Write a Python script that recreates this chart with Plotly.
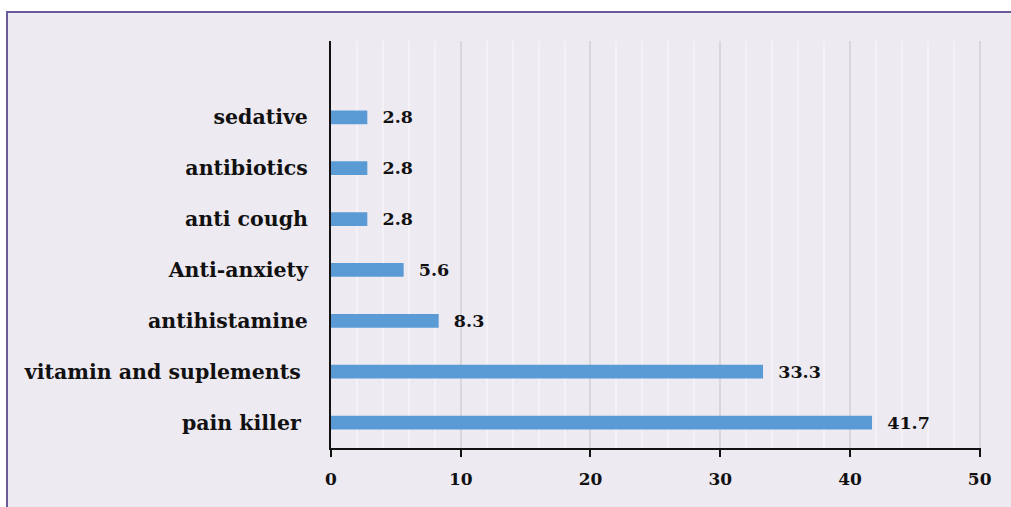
import plotly.graph_objects as go

categories = ["pain killer\u00a0", "vitamin and suplements\u00a0", "antihistamine", "Anti-anxiety",
              "anti cough", "antibiotics", "sedative"]
values = [41.7, 33.3, 8.3, 5.6, 2.8, 2.8, 2.8]
value_labels = ["41.7", "33.3", "8.3", "5.6", "2.8", "2.8", "2.8"]

W, H = 1011, 507
L, R, T, B = 331, 30, 41, 59
pw, ph = W - L - R, H - T - B

def px_x(x):
    return (x - L) / pw

def px_y(y):
    return (H - B - y) / ph

BG = "#EEEAF2"
FONT = "DejaVu Serif"

fig = go.Figure(go.Bar(
    y=list(range(len(categories))),
    x=values,
    orientation="h",
    width=0.27,
    marker=dict(color="#5B9BD5", line=dict(width=0)),
    text=["\u00a0\u00a0" + v for v in value_labels],
    textposition="outside",
    constraintext="none",
    textfont=dict(family=FONT, size=17.5, color="#111111", weight="bold"),
    cliponaxis=False,
))

fig.add_shape(type="rect", xref="paper", yref="paper",
              x0=px_x(7), x1=px_x(1030), y0=px_y(530), y1=px_y(12),
              fillcolor=BG, line=dict(color="#6A5A9A", width=2), layer="below")

fig.update_layout(
    width=W, height=H,
    margin=dict(l=L, r=R, t=T, b=B, pad=0),
    paper_bgcolor="white",
    plot_bgcolor=BG,
    showlegend=False,
    bargap=0.73,
    xaxis=dict(
        range=[0, 50.1], tickvals=[0, 10, 20, 30, 40, 50],
        showgrid=True, gridcolor="#D9D6DC", gridwidth=2,
        minor=dict(dtick=2, tick0=0, showgrid=True, gridcolor="#F4F2F7", gridwidth=1.5),
        showline=True, linecolor="#111111", linewidth=2,
        ticks="outside", ticklen=7, tickwidth=2, tickcolor="#111111",
        ticklabelstandoff=8,
        tickfont=dict(family=FONT, size=17, color="#111111", weight="bold"),
        zeroline=False,
    ),
    yaxis=dict(
        range=[-0.5, 7.5],
        tickmode="array", tickvals=list(range(len(categories))), ticktext=categories,
        showline=True, linecolor="#111111", linewidth=2,
        showgrid=False, zeroline=False, ticks="",
        ticklabelstandoff=17,
        tickfont=dict(family=FONT, size=20.5, color="#111111", weight="bold"),
    ),
)

fig.write_html("out.html")
